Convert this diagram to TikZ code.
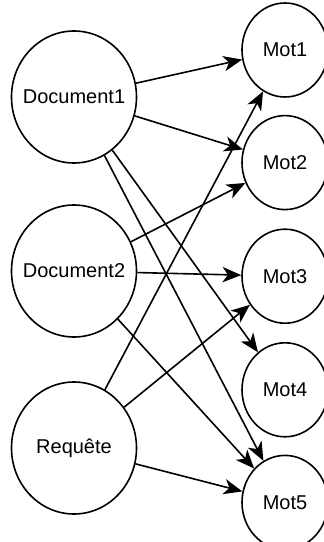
\documentclass[tikz,border=0pt]{standalone}
\usepackage{fontspec}
\setmainfont{Liberation Sans}
\usetikzlibrary{arrows.meta, positioning, shapes.geometric}
\newcommand{\nlabel}[1]{\makebox[0pt]{#1}}
\tikzset{
  docnode/.style={draw, ellipse, line width=1.2pt, inner sep=0pt,
    minimum width=93.75pt, minimum height=99pt, font=\fontsize{15}{18}\selectfont},
  motnode/.style={draw, ellipse, line width=1.2pt, inner sep=0pt,
    minimum width=64.5pt, minimum height=70.5pt, font=\fontsize{15}{18}\selectfont},
  arrow/.style={-{Stealth[length=14pt, width=11.5pt, inset=4pt]}, line width=1.2pt}
}

\begin{document}
\begin{tikzpicture}[x=0.75pt, y=-0.75pt, node distance=12.75pt]
  \useasboundingbox (0,0) rectangle (324,542);

  % === documents and query ===
  \node[docnode] (doc1) at (74,97) {\nlabel{Document1}};
  \node[docnode] (doc2) at (74,271) {\nlabel{Document2}};
  \node[docnode] (req) at (74,448) {\nlabel{Requête}};

  % === words ===
  \node[motnode] (mot1) at (285,50) {\nlabel{Mot1}};
  \node[motnode, below=of mot1] (mot2) {\nlabel{Mot2}};
  \node[motnode, below=13.5pt of mot2] (mot3) {\nlabel{Mot3}};
  \node[motnode, below=13.5pt of mot3] (mot4) {\nlabel{Mot4}};
  \node[motnode, below=of mot4] (mot5) {\nlabel{Mot5}};

  \draw[arrow] (doc1) -- (mot1);
  \draw[arrow] (doc1) -- (mot2);
  \draw[arrow] (doc1) -- (mot4);
  \draw[arrow] (doc1) -- (mot5);

  \draw[arrow] (doc2) -- (mot2);
  \draw[arrow] (doc2) -- (mot3);
  \draw[arrow] (doc2) -- (mot5);

  \draw[arrow] (req) -- (mot1);
  \draw[arrow] (req) -- (mot3);
  \draw[arrow] (req) -- (mot5);
\end{tikzpicture}
\end{document}
